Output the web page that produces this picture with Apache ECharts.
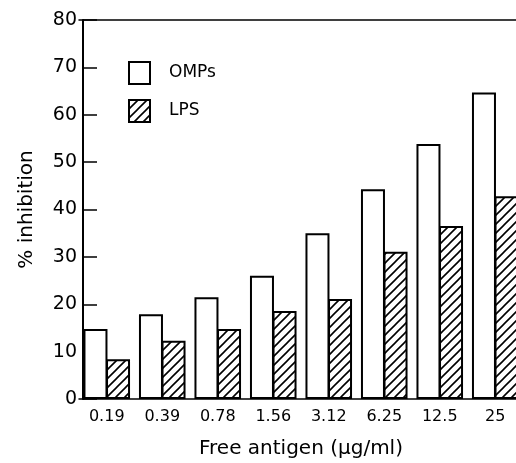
<!DOCTYPE html>
<html>
<head>
<meta charset="utf-8">
<script src="https://cdn.jsdelivr.net/npm/echarts@6/dist/echarts.min.js"></script>
<style>html,body{margin:0;padding:0;background:#fff;}#c{width:516px;height:463px;}</style>
</head>
<body>
<div id="c"></div>
<script>
const categories = ['0.19', '0.39', '0.78', '1.56', '3.12', '6.25', '12.5', '25'];
const ompValues = [14.8, 17.9, 21.5, 26, 35, 44.3, 53.8, 64.7];
const lpsValues = [8.4, 12.3, 14.8, 18.6, 21.1, 31.1, 36.5, 42.8];
const seriesNames = ['OMPs', 'LPS'];
const yMin = 0, yMax = 80, yStep = 10;

function hatch() {
  const s = 9;
  const c = document.createElement('canvas');
  c.width = s; c.height = s;
  const g = c.getContext('2d');
  g.fillStyle = '#fff'; g.fillRect(0, 0, s, s);
  g.strokeStyle = '#000'; g.lineWidth = 1.6;
  g.beginPath();
  g.moveTo(-2, s + 2); g.lineTo(s + 2, -2);
  g.moveTo(-2, 2); g.lineTo(2, -2);
  g.moveTo(s - 2, s + 2); g.lineTo(s + 2, s - 2);
  g.stroke();
  return c;
}

const font = 'DejaVu Sans';
const chart = echarts.init(document.getElementById('c'));
chart.setOption({
  animation: false,
  backgroundColor: '#fff',
  grid: { left: 79, right: -7, top: 20, bottom: 64, outerBoundsMode: 'none', containLabel: false },
  legend: {
    data: seriesNames,
    orient: 'vertical', left: 128, top: 61, padding: 0,
    icon: 'rect', itemWidth: 21, itemHeight: 22, itemGap: 14,
    textStyle: { fontFamily: font, fontSize: 17, color: '#000', padding: [0, 0, 0, 14] }
  },
  xAxis: [{
    type: 'category', data: categories,
    axisLine: { lineStyle: { color: '#000', width: 1.5 } },
    axisTick: { show: false },
    axisLabel: { color: '#000', fontFamily: font, fontSize: 16, margin: 10 },
    name: 'Free antigen (μg/ml)', nameLocation: 'middle', nameGap: 40,
    nameTextStyle: { color: '#000', fontFamily: font, fontSize: 20 }
  }, {
    type: 'category', data: categories, position: 'top',
    axisLine: { lineStyle: { color: '#000', width: 1.5 } },
    axisTick: { show: false }, axisLabel: { show: false }
  }],
  yAxis: {
    type: 'value', min: yMin, max: yMax, interval: yStep, offset: -4,
    axisLine: { show: true, lineStyle: { color: '#000', width: 2 } },
    axisTick: { show: true, inside: true, length: 14, lineStyle: { color: '#000', width: 1.5 } },
    axisLabel: { color: '#000', fontFamily: font, fontSize: 19, margin: 6 },
    splitLine: { show: false },
    name: '% inhibition', nameLocation: 'middle', nameGap: 46,
    nameTextStyle: { color: '#000', fontFamily: font, fontSize: 20 }
  },
  series: [{
    name: seriesNames[0], type: 'bar', data: ompValues,
    barWidth: 24, barGap: '-6%',
    itemStyle: { color: '#fff', borderColor: '#000', borderWidth: 2 }
  }, {
    name: seriesNames[1], type: 'bar', data: lpsValues,
    barWidth: 24, barGap: '-6%',
    itemStyle: { color: { image: hatch(), repeat: 'repeat' }, borderColor: '#000', borderWidth: 2 }
  }]
});
</script>
</body>
</html>
